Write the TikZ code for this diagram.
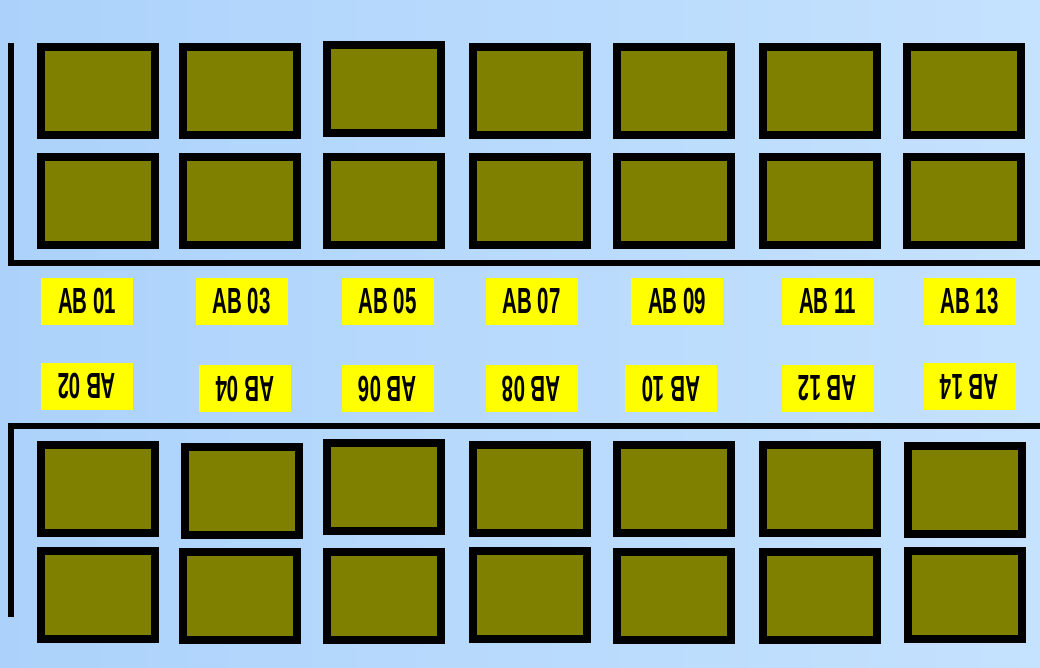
\documentclass[tikz,border=0pt]{standalone}
\usepackage{fontspec}
\newfontfamily\labfont{Liberation Sans}
\definecolor{bgleft}{RGB}{172,210,251}
\definecolor{bgright}{RGB}{197,226,254}
\definecolor{olivefill}{RGB}{128,128,0}
\definecolor{labyellow}{RGB}{255,255,0}
\tikzset{
  slot/.style={draw=black, line width=8pt, fill=olivefill, minimum width=114pt, minimum height=88pt, inner sep=0pt, outer sep=0pt},
  plate/.style={fill=labyellow, minimum width=92pt, minimum height=47pt, inner sep=0pt},
  rail/.style={line width=6pt, draw=black, line cap=butt, line join=miter},
}
\newcommand{\labtxt}[1]{\scalebox{0.62}[1.1]{\labfont\bfseries\fontsize{33}{33}\selectfont #1}}
\begin{document}
\begin{tikzpicture}[x=1pt,y=-1pt]
\useasboundingbox (0,0) rectangle (1040,668);
\shade[left color=bgleft, right color=bgright] (0,0) rectangle (1040,668);
% rails
\coordinate (t1) at (11,43);
\coordinate (t2) at (11,263);
\coordinate (t3) at (1040,263);
\draw[rail] (t1) -- (t2) -- (t3);
\coordinate (b1) at (11,617);
\coordinate (b2) at (11,426);
\coordinate (b3) at (1040,426);
\draw[rail] (b1) -- (b2) -- (b3);
% row 1
\node[slot] (r1c1) at (98,91) {};
\node[slot] (r1c2) at (240,91) {};
\node[slot] (r1c3) at (384,89) {};
\node[slot] (r1c4) at (530,91) {};
\node[slot] (r1c5) at (674,91) {};
\node[slot] (r1c6) at (820,91) {};
\node[slot] (r1c7) at (964,91) {};
% row 2
\node[slot] (r2c1) at (98,201) {};
\node[slot] (r2c2) at (240,201) {};
\node[slot] (r2c3) at (384,201) {};
\node[slot] (r2c4) at (530,201) {};
\node[slot] (r2c5) at (674,201) {};
\node[slot] (r2c6) at (820,201) {};
\node[slot] (r2c7) at (964,201) {};
% row 3
\node[slot] (r3c1) at (98,489) {};
\node[slot] (r3c2) at (242,490.5) {};
\node[slot] (r3c3) at (384,487) {};
\node[slot] (r3c4) at (530,489) {};
\node[slot] (r3c5) at (674,489) {};
\node[slot] (r3c6) at (820,489) {};
\node[slot] (r3c7) at (964.5,490) {};
% row 4
\node[slot] (r4c1) at (98,595) {};
\node[slot] (r4c2) at (240,596) {};
\node[slot] (r4c3) at (384,596) {};
\node[slot] (r4c4) at (530,595) {};
\node[slot] (r4c5) at (674,596) {};
\node[slot] (r4c6) at (820,596) {};
\node[slot] (r4c7) at (964.5,595) {};
% labels upright
\node[plate] (ab01) at (87,301.5) {\labtxt{AB 01}};
\node[plate] (ab03) at (241.5,301.5) {\labtxt{AB 03}};
\node[plate] (ab05) at (387.5,301.5) {\labtxt{AB 05}};
\node[plate] (ab07) at (531.5,301.5) {\labtxt{AB 07}};
\node[plate] (ab09) at (677,301.5) {\labtxt{AB 09}};
\node[plate] (ab11) at (827.5,301.5) {\labtxt{AB 11}};
\node[plate] (ab13) at (969.5,301.5) {\labtxt{AB 13}};
% labels upside down
\node[plate, rotate=180] (ab02) at (87,386) {\labtxt{AB 02}};
\node[plate, rotate=180] (ab04) at (245,388.5) {\labtxt{AB 04}};
\node[plate, rotate=180] (ab06) at (387.5,388.5) {\labtxt{AB 06}};
\node[plate, rotate=180] (ab08) at (531.5,388.5) {\labtxt{AB 08}};
\node[plate, rotate=180] (ab10) at (671,388.5) {\labtxt{AB 10}};
\node[plate, rotate=180] (ab12) at (827.5,388.5) {\labtxt{AB 12}};
\node[plate, rotate=180] (ab14) at (969.5,386.5) {\labtxt{AB 14}};
\end{tikzpicture}
\end{document}
